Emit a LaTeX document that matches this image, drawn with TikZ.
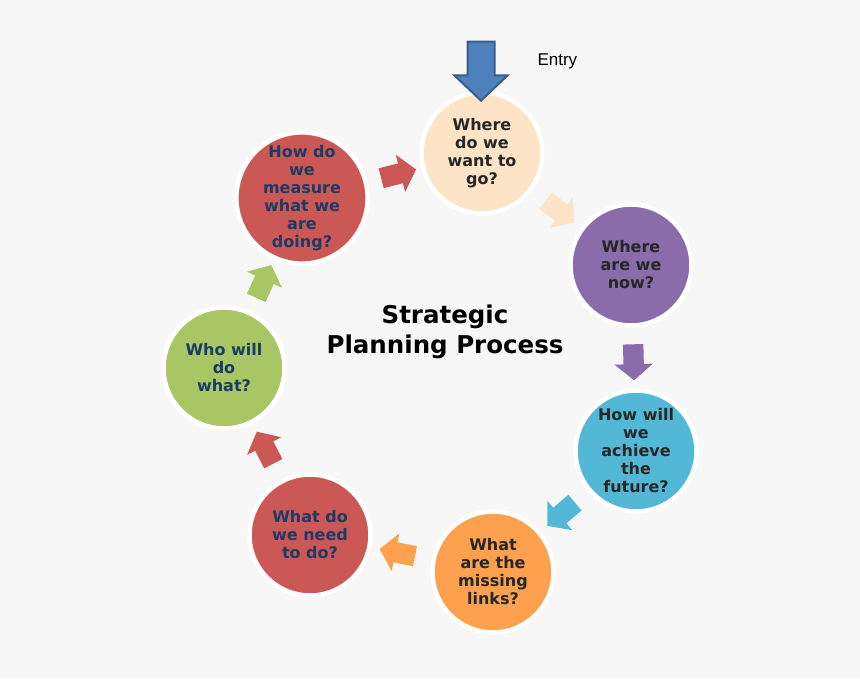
\documentclass[tikz,border=0pt]{standalone}
\usepackage{fontspec}
\setmainfont{DejaVu Sans}
\newfontfamily\entryfont{Liberation Sans}
\usetikzlibrary{shapes.arrows}

\definecolor{bgcol}{HTML}{F7F7F7}
\definecolor{peach}{HTML}{FEE4C6}
\definecolor{violet}{HTML}{8A6CAB}
\definecolor{aqua}{HTML}{52B8D6}
\definecolor{amber}{HTML}{FDA14E}
\definecolor{brick}{HTML}{CC5856}
\definecolor{olive}{HTML}{A8C764}
\definecolor{darktext}{HTML}{262626}
\definecolor{navytext}{HTML}{1B3A66}
\definecolor{entryfill}{HTML}{4F81BD}
\definecolor{entryline}{HTML}{385D8A}

\begin{document}
\begin{tikzpicture}[x=1pt,y=-1pt,
    stage/.style={circle, minimum size=121pt, inner sep=0pt, draw=white,
      line width=4.5pt, align=center,
      font=\bfseries\fontsize{16}{18}\selectfont},
    flow/.style={single arrow, sloped, allow upside down, draw=none,
      minimum height=36pt, inner xsep=0pt, inner ysep=10pt,
      single arrow head extend=9pt, single arrow tip angle=100}]
  \fill[bgcol] (0,0) rectangle (860,678);
  % the seven stages
  \node[stage, fill=peach, text=darktext] (goal) at (482,153)
    {Where\\do we\\want to\\go?};
  \node[stage, fill=violet, text=darktext] (now) at (631,265)
    {Where\\are we\\now?};
  \node[stage, fill=aqua, text=darktext] (achieve) at (636,451)
    {How will\\we\\achieve\\the\\future?};
  \node[stage, fill=amber, text=darktext] (links) at (493,572)
    {What\\are the\\missing\\links?};
  \node[stage, fill=brick, text=navytext] (need) at (310,535)
    {What do\\we need\\to do?};
  \node[stage, fill=olive, text=navytext] (who) at (224,368)
    {Who will\\do\\what?};
  \node[stage, fill=brick, text=navytext] (measure) at (302,198)
    {How do\\we\\measure\\what we\\are\\doing?};
  \node[font=\bfseries\fontsize{24.5}{30}\selectfont, align=center] (title)
    at (445,332) {Strategic\\Planning Process};
  % block arrows round the cycle
  \begin{scope}
    \path (measure) -- node[flow, fill=brick] (f1) {} (goal);
    \path (goal) -- node[flow, fill=peach] (f2) {} (now);
    \path (now) -- node[flow, fill=violet] (f3) {} (achieve);
    \path (achieve) -- node[flow, fill=aqua] (f4) {} (links);
    \path (links) -- node[flow, fill=amber] (f5) {} (need);
    \path (need) -- node[flow, fill=brick] (f6) {} (who);
    \path (who) -- node[flow, fill=olive] (f7) {} (measure);
  \end{scope}
  % entry point
  \node[single arrow, rotate=-90, anchor=tip, fill=entryfill, draw=entryline,
    line width=2pt, minimum height=59pt, inner xsep=0pt, inner ysep=12.5pt,
    single arrow head extend=13pt, single arrow tip angle=93] (entry)
    at (481,102) {};
  \node[font=\entryfont\fontsize{17}{20}\selectfont, anchor=west] (entrylbl)
    at (534,61) {Entry};
\end{tikzpicture}
\end{document}
